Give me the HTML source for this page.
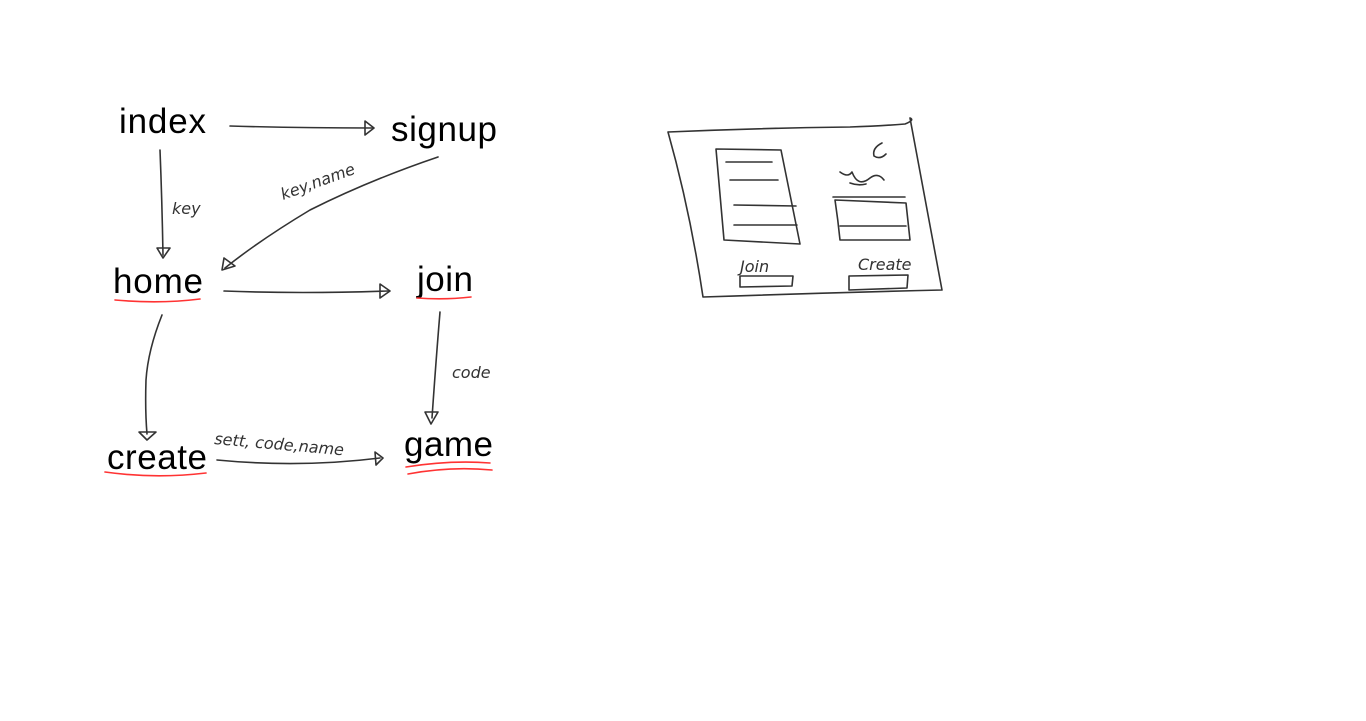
<!DOCTYPE html>
<html><head><style>
html,body{margin:0;padding:0;background:#fff;width:1366px;height:721px;overflow:hidden}
svg{display:block}
text{font-family:"Liberation Sans",sans-serif;fill:#000}
.h{font-family:"DejaVu Sans",sans-serif;font-size:16px;fill:#333;font-style:italic}
</style></head><body>
<svg width="1366" height="721" viewBox="0 0 1366 721">
<g font-size="35">
<text x="119" y="133" textLength="87">index</text>
<text x="391" y="141" textLength="106">signup</text>
<text x="113" y="293" textLength="90">home</text>
<text x="417" y="291" textLength="56">join</text>
<text x="107" y="469" textLength="100">create</text>
<text x="404" y="456" textLength="89">game</text>
</g>
<g fill="none" stroke="#ff3333" stroke-width="1.6" stroke-linecap="round">
<path d="M115 300 Q160 304 200 299"/>
<path d="M417 298 Q445 300 471 297"/>
<path d="M105 472 Q155 479 206 473"/>
<path d="M406 467 Q450 460 490 463"/>
<path d="M408 474 Q450 466 492 470"/>
</g>
<g fill="none" stroke="#333" stroke-width="1.6" stroke-linecap="round" stroke-linejoin="round">
<path d="M230 126 Q300 128 372 128"/><path d="M365 121 L374 128 L365 135 Z"/>
<path d="M160 150 Q162 200 163 255"/><path d="M157 248 L163 258 L170 248 Z"/>
<path d="M438 157 Q370 180 310 210 Q260 240 225 268"/><path d="M224 258 L222 270 L235 266 Z"/>
<path d="M224 291 Q300 294 388 291"/><path d="M380 284 L390 291 L380 298 Z"/>
<path d="M162 315 Q148 350 146 380 Q145 410 147 434"/><path d="M139 432 L147 440 L156 432 Z"/>
<path d="M440 312 Q436 360 432 418"/><path d="M425 412 L431 424 L438 412 Z"/>
<path d="M217 460 Q300 468 380 458"/><path d="M375 452 L383 458 L376 465 Z"/>
<path d="M668 132 Q760 128 850 127 Q880 126 905 124 Q915 120 910 118 Q925 200 942 290 Q820 293 703 297 Q690 210 668 132"/>
<path d="M716 149 L781 150 Q790 195 800 244 L724 240 Q720 195 716 149 Z"/>
<path d="M726 162 L772 162 M730 180 L778 180 M734 205 L796 206 M734 225 L797 225"/>
<path d="M835 200 L906 203 Q908 222 910 240 L840 240 Q838 220 835 200 Z"/>
<path d="M840 226 L906 226 M833 197 L905 197"/>
<path d="M840 172 Q848 178 852 172 Q858 188 870 178 Q878 172 884 180 M850 183 Q858 186 866 184"/>
<path d="M882 143 Q872 148 874 156 Q880 160 886 154"/>
<path d="M740 276 L793 276 L792 286 L740 287 Z"/>
<path d="M849 276 L908 275 L907 288 L849 290 Z"/>
</g>
<text class="h" x="172" y="214">key</text>
<text class="h" x="283" y="200" transform="rotate(-20 283 200)">key,name</text>
<text class="h" x="452" y="378">code</text>
<text class="h" x="214" y="444" transform="rotate(5 214 444)">sett, code,name</text>
<text class="h" x="740" y="272" font-size="11">Join</text>
<text class="h" x="858" y="270" font-size="11">Create</text>
</svg>
</body></html>
